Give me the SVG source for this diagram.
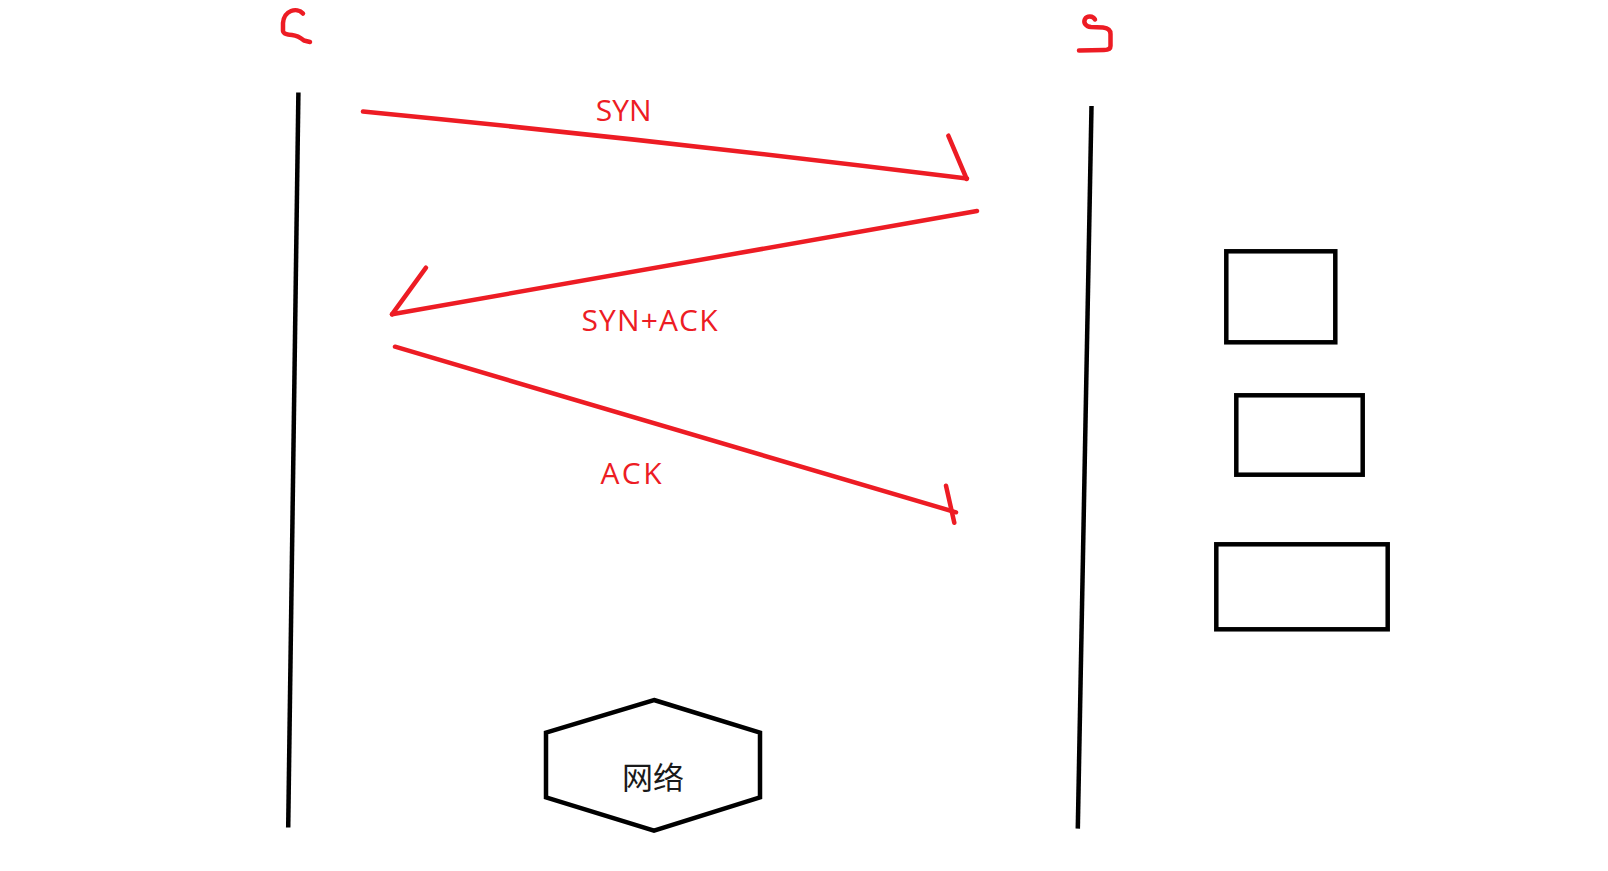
<svg xmlns="http://www.w3.org/2000/svg" width="1608" height="871" viewBox="0 0 1608 871">
  <style>
    .red { fill: none; stroke: #ED1C24; stroke-width: 4.5; stroke-linecap: round; stroke-linejoin: round; }
    .blk { fill: none; stroke: #000000; stroke-width: 4.5; stroke-linecap: butt; stroke-linejoin: miter; }
    .life { fill: none; stroke: #000000; stroke-width: 4.5; }
    .lbl { font-family: "Open Sans", "Noto Sans", "Liberation Sans", sans-serif; font-size: 30px; fill: #ED1C24; }
    .cjk { font-family: "Noto Sans CJK SC", "Noto Sans", sans-serif; font-size: 31px; fill: #1a1a1a; }
  </style>
  <rect x="0" y="0" width="1608" height="871" fill="#ffffff"/>

  <g id="client">
    <path class="red" d="M303,13.5 C300,10 295,9.5 291,11 C286,13 283.5,17 283,23 L283,31 C283.5,34 287,34.5 292,35 C297,35.5 301,38 304,40.5 L310,42"/>
    <line class="life" x1="298.4" y1="92.5" x2="288.2" y2="827.5"/>
  </g>

  <g id="server">
    <path class="red" d="M1095,19.5 C1093,15.5 1087,15.5 1085,19 C1083,23 1086,26.5 1091,27 L1103,27.5 C1108,28 1110.5,30 1110.5,34 L1110.5,46 C1110.5,49 1108,50 1104,50 L1079,50.5"/>
    <line class="life" x1="1091.5" y1="106" x2="1077.8" y2="828.6"/>
  </g>

  <g id="connectors">
    <g id="syn">
      <path class="red" d="M363,111.5 Q665,141 967,178.5"/>
      <line class="red" x1="948.3" y1="135.7" x2="966.7" y2="179"/>
      <text class="lbl" x="623.7" y="120.7" text-anchor="middle">SYN</text>
    </g>
    <g id="synack">
      <line class="red" x1="977" y1="211" x2="392" y2="314.3"/>
      <line class="red" x1="426" y1="267.7" x2="392" y2="314.3"/>
      <text class="lbl" x="649.5" y="330.7" text-anchor="middle" textLength="136" lengthAdjust="spacing">SYN+ACK</text>
    </g>
    <g id="ack">
      <line class="red" x1="395" y1="346.7" x2="956" y2="512.3"/>
      <line class="red" x1="946" y1="485.7" x2="954.3" y2="522.7"/>
      <text class="lbl" x="631" y="484" text-anchor="middle" textLength="61" lengthAdjust="spacing">ACK</text>
    </g>
  </g>

  <g id="network">
    <polygon class="blk" points="654,700 760,732.7 760,797.3 654,830.7 546,797.3 546,732.7"/>
    <text class="cjk" x="653" y="789" text-anchor="middle">网络</text>
  </g>

  <g id="box1">
    <rect class="blk" x="1226.3" y="251.3" width="109" height="91"/>
  </g>
  <g id="box2">
    <rect class="blk" x="1236.3" y="395.3" width="126.4" height="79.4"/>
  </g>
  <g id="box3">
    <rect class="blk" x="1216.3" y="544.3" width="171.4" height="85"/>
  </g>
</svg>
